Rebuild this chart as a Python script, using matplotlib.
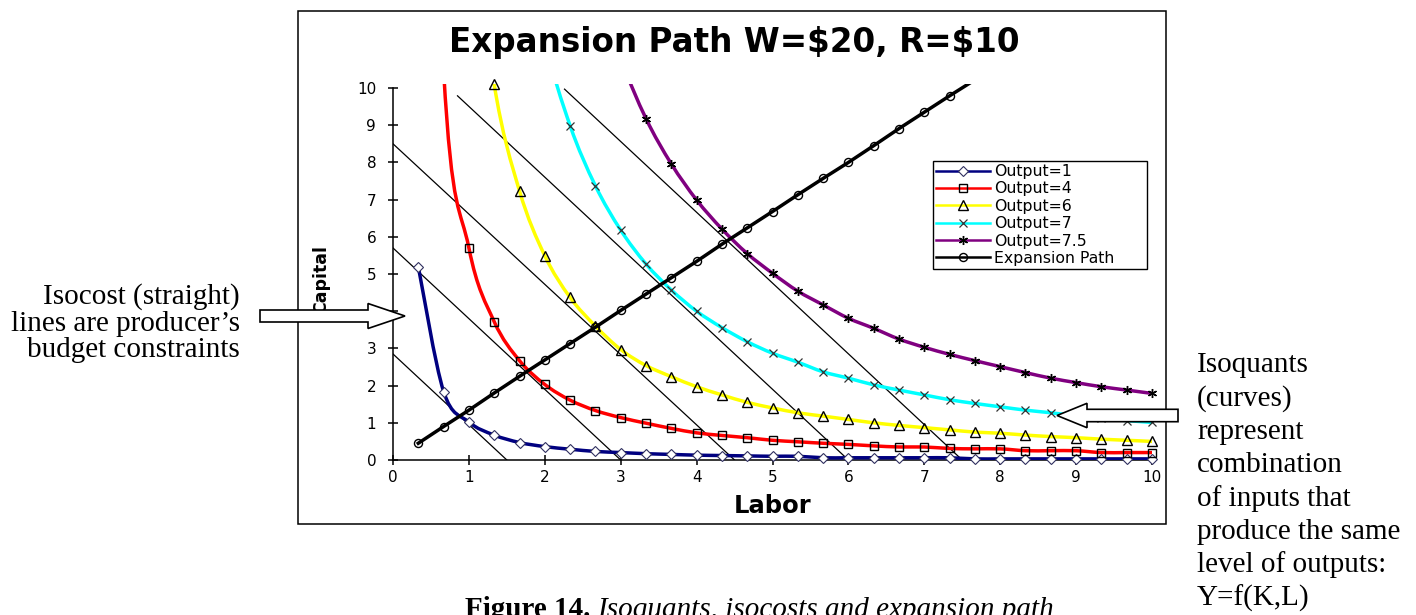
import numpy as np
import matplotlib.pyplot as plt
from matplotlib.path import Path
from matplotlib.patches import PathPatch, Rectangle, Polygon
from matplotlib.lines import Line2D

# labor values shared by every series (one point every third of a unit)
labor = [0.333, 0.667, 1.0, 1.333, 1.667, 2.0, 2.333, 2.667, 3.0, 3.333,
         3.667, 4.0, 4.333, 4.667, 5.0, 5.333, 5.667, 6.0, 6.333, 6.667,
         7.0, 7.333, 7.667, 8.0, 8.333, 8.667, 9.0, 9.333, 9.667, 10.0]

out1 = [5.2, 1.84, 1.02, 0.67, 0.47, 0.36, 0.29, 0.23, 0.2, 0.17,
        0.15, 0.13, 0.12, 0.11, 0.1, 0.1, 0.06, 0.06, 0.06, 0.06,
        0.06, 0.06, 0.03, 0.03, 0.03, 0.03, 0.03, 0.03, 0.03, 0.03]
out4 = [29.6, 10.47, 5.7, 3.72, 2.67, 2.03, 1.61, 1.33, 1.14, 0.99,
        0.85, 0.73, 0.66, 0.6, 0.53, 0.49, 0.45, 0.42, 0.38, 0.35,
        0.35, 0.31, 0.3, 0.3, 0.25, 0.25, 0.25, 0.2, 0.2, 0.2]
out6 = [81.0, 28.7, 15.6, 10.1, 7.23, 5.49, 4.37, 3.6, 2.97, 2.54,
        2.24, 1.97, 1.75, 1.55, 1.4, 1.27, 1.18, 1.09, 1.0, 0.93,
        0.87, 0.81, 0.75, 0.72, 0.67, 0.63, 0.6, 0.56, 0.53, 0.5]
out7 = [166.0, 58.8, 32.0, 20.8, 14.9, 11.3, 8.99, 7.37, 6.18, 5.27,
        4.57, 4.0, 3.56, 3.18, 2.87, 2.63, 2.37, 2.2, 2.02, 1.88,
        1.75, 1.62, 1.52, 1.43, 1.34, 1.27, 1.19, 1.12, 1.06, 1.01]
out75 = [291.0, 103.0, 56.0, 36.4, 26.0, 19.8, 15.7, 12.9, 10.8, 9.18,
         7.96, 6.99, 6.21, 5.55, 5.02, 4.54, 4.17, 3.81, 3.54, 3.25,
         3.03, 2.84, 2.67, 2.51, 2.35, 2.2, 2.08, 1.97, 1.88, 1.79]
expansion = [0.45, 0.9, 1.34, 1.8, 2.25, 2.69, 3.13, 3.57, 4.02, 4.46,
             4.9, 5.34, 5.8, 6.24, 6.68, 7.13, 7.57, 8.0, 8.45, 8.91,
             9.35, 9.79, 10.22, 10.67, 11.11, 11.55, 12.0, 12.44, 12.89, 13.33]

# isocost lines, start and end points
iso_labor = [[0, 1.5], [0, 3.0], [0, 4.5], [0.85, 6.0], [2.26, 7.5]]
iso_capital = [[2.85, 0], [5.7, 0], [8.5, 0], [9.79, 0], [9.97, 0]]

legend_labels = ["Output=1", "Output=4", "Output=6", "Output=7", "Output=7.5", "Expansion Path"]
ticks = list(range(0, 11))

left_note = ["Isocost (straight)", "lines are producer\u2019s", "budget constraints"]
right_note = ["Isoquants", "(curves)", "represent", "combination", "of inputs that",
              "produce the same", "level of outputs:", "Y=f(K,L)"]

W, H = 1416, 615
plt.rcParams['font.family'] = ['DejaVu Sans']
fig = plt.figure(figsize=(W / 100, H / 100), dpi=100)


def px(x, y):
    return (x / W, 1 - y / H)


def smooth_path(xs, ys):
    # Excel style smoothed line: bezier through every point
    pts = np.column_stack([xs, ys]).astype(float)
    n = len(pts)
    verts = [pts[0]]
    codes = [Path.MOVETO]
    for i in range(n - 1):
        p0 = pts[i - 1] if i > 0 else pts[i]
        p1 = pts[i]
        p2 = pts[i + 1]
        p3 = pts[i + 2] if i + 2 < n else pts[i + 1]
        verts += [p1 + (p2 - p0) / 6, p2 - (p3 - p1) / 6, p2]
        codes += [Path.CURVE4] * 3
    return Path(verts, codes)


ax = fig.add_axes([393 / W, 1 - 460 / H, (1152 - 393) / W, (460 - 84.3) / H])
ax.set_xlim(0, 10)
ax.set_ylim(0, 10.1)

for xs, ys in zip(iso_labor, iso_capital):
    ax.plot(xs, ys, color='black', lw=0.9, zorder=2)

styles = [
    (out1, '#000080', dict(marker='D', ms=4.8, mfc='white', mec='#303060', mew=0.8)),
    (out4, '#FF0000', dict(marker='s', ms=6, mfc='none', mec='black', mew=1.0)),
    (out6, '#FFFF00', dict(marker='^', ms=6.5, mfc='none', mec='black', mew=1.0)),
    (out7, '#00FFFF', dict(marker='x', ms=5.5, mec='#333333', mew=0.9)),
    (out75, '#800080', dict(marker=(6, 2, 0), ms=6.5, mec='black', mew=1.0)),
]

lab = np.array(labor)
handles = []
for vals, color, mk in styles:
    vals = np.array(vals)
    ax.add_patch(PathPatch(smooth_path(lab, vals), fill=False, edgecolor=color,
                           lw=2.5, zorder=3, joinstyle='round', capstyle='round'))
    keep = vals <= 10.1
    ax.plot(lab[keep], vals[keep], ls='none', clip_on=False, zorder=4, **mk)
    handles.append(Line2D([], [], color=color, lw=1.8, **mk))

exp = np.array(expansion)
ax.plot(lab, exp, color='black', lw=2.5, zorder=3)
keep = exp <= 10.1
exp_mk = dict(marker='o', ms=5.8, mfc='none', mec='black', mew=1.0)
ax.plot(lab[keep], exp[keep], ls='none', zorder=4, **exp_mk)
handles.append(Line2D([], [], color='black', lw=1.8, **exp_mk))

for s in ['top', 'right']:
    ax.spines[s].set_visible(False)
for s in ['left', 'bottom']:
    ax.spines[s].set_linewidth(1.1)
ax.spines['left'].set_bounds(0, 10)
ax.set_xticks(ticks)
ax.set_yticks(ticks)
ax.tick_params(axis='both', direction='inout', length=7.2, width=1.1, labelsize=11, colors='black')
ax.tick_params(axis='x', pad=3.5)
ax.tick_params(axis='y', pad=8.5)

leg = ax.legend(handles, legend_labels, loc='upper left',
                bbox_to_anchor=(933 / W, 1 - 272 / H, (1147 - 933) / W, (272 - 161) / H),
                bbox_transform=fig.transFigure, mode='expand', borderaxespad=0,
                fontsize=11.3, handlelength=3.4, handletextpad=0.3, labelspacing=0.15,
                borderpad=0.2, fancybox=False, framealpha=1, edgecolor='black')
leg.get_frame().set_linewidth(1.0)
leg.set_zorder(6)

fig.text(734 / W, 1 - 52 / H, r'Expansion Path W=\$20, R=\$10', ha='center', va='baseline',
         fontsize=23.5, fontweight='bold')
fig.text(773 / W, 1 - 513 / H, 'Labor', ha='center', va='baseline', fontsize=17.5, fontweight='bold')
fig.text(321 / W, 1 - 279 / H, 'Capital', ha='center', va='center', rotation=90,
         fontsize=12.5, fontweight='bold')

# chart border
fig.add_artist(Rectangle(px(298, 524), (1166 - 298) / W, (524 - 11) / H, transform=fig.transFigure,
                         fill=False, ec='black', lw=1.1, zorder=1))


def block_arrow(tail_x, tip_x, yc, shaft, head, head_len):
    d = 1 if tip_x > tail_x else -1
    base = tip_x - d * head_len
    pts = [(tail_x, yc - shaft), (base, yc - shaft), (base, yc - head), (tip_x, yc),
           (base, yc + head), (base, yc + shaft), (tail_x, yc + shaft)]
    return Polygon([px(x, y) for x, y in pts], closed=True, transform=fig.transFigure,
                   fc='white', ec='black', lw=1.2, zorder=10)


fig.add_artist(block_arrow(260, 405, 316, 6, 12.5, 37))
fig.add_artist(block_arrow(1178, 1057, 415.5, 6.2, 12.2, 30))

serif = 'Liberation Serif'
for i, s in enumerate(left_note):
    fig.text(240 / W, 1 - (304 + 26.6 * i) / H, s, ha='right', va='baseline', family=serif, fontsize=21)
for i, s in enumerate(right_note):
    fig.text(1197 / W, 1 - (372.5 + 33.3 * i) / H, s, ha='left', va='baseline', family=serif, fontsize=21)

cap1 = fig.text(465 / W, 1 - 617 / H, 'Figure 14.', ha='left', va='baseline', family=serif,
                fontsize=21, fontweight='bold')
fig.canvas.draw()
bb = cap1.get_window_extent()
fig.text((bb.x1 + 7) / W, 1 - 617 / H, 'Isoquants, isocosts and expansion path', ha='left',
         va='baseline', family=serif, fontsize=21, style='italic')

fig.savefig('out.png', dpi=100)
